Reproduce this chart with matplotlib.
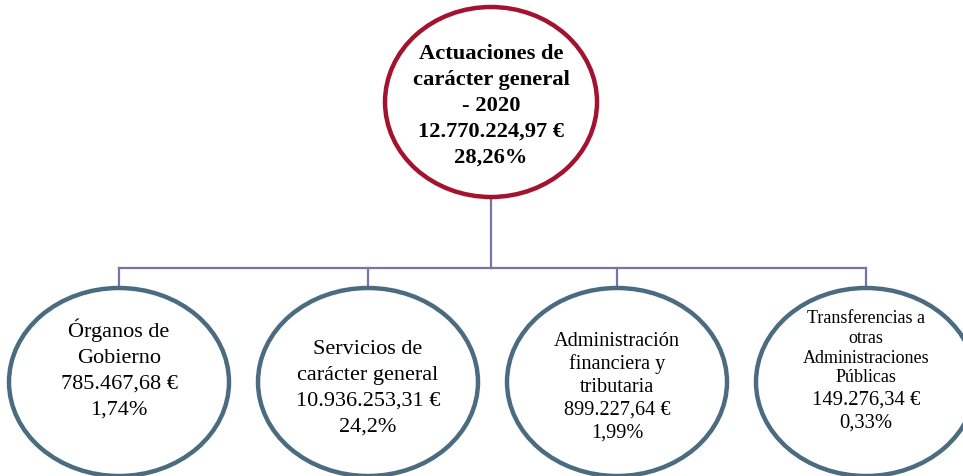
import matplotlib.pyplot as plt
from matplotlib.patches import Ellipse

# root node
root_lines = ["Actuaciones de", "carácter general", "- 2020"]
root_amount = "12.770.224,97 €"
root_pct = "28,26%"

# child nodes
child_names = [
    ["Órganos de", "Gobierno"],
    ["Servicios de", "carácter general"],
    ["Administración", "financiera y", "tributaria"],
    ["Transferencias a", "otras", "Administraciones", "Públicas"],
]
child_amounts = ["785.467,68 €", "10.936.253,31 €", "899.227,64 €", "149.276,34 €"]
child_pcts = ["1,74%", "24,2%", "1,99%", "0,33%"]

W, H = 963, 476
fig = plt.figure(figsize=(W / 100, H / 100), dpi=100)
ax = fig.add_axes([0, 0, 1, 1])
ax.set_xlim(0, W)
ax.set_ylim(H, 0)
ax.axis("off")

serif = ["Liberation Serif", "DejaVu Serif"]
red = "#A3132F"
slate = "#4B6B81"
link = "#7774AA"


def stack(x, y0, step, lines, size, **kw):
    # one text per line, baselines step pixels apart
    for k, s in enumerate(lines):
        ax.text(x, y0 + k * step, s, ha="center", va="baseline", fontsize=size,
                family=serif, zorder=3, **kw)


# layout (pixels)
root_xy = (491, 102)
root_w, root_h = 212, 190
child_x = [119, 368, 617, 866]
child_cy = 382
child_w, child_h = 220, 188
bus_y = 268

# connectors
ax.plot([root_xy[0], root_xy[0]], [root_xy[1] + root_h / 2, bus_y], color=link, lw=1.6, zorder=1)
ax.plot([child_x[0], child_x[-1]], [bus_y, bus_y], color=link, lw=1.6, zorder=1)
for cx in child_x:
    ax.plot([cx, cx], [bus_y, child_cy - child_h / 2], color=link, lw=1.6, zorder=1)

# root circle
ax.add_patch(Ellipse(root_xy, root_w, root_h, facecolor="white", edgecolor=red, lw=3.2, zorder=2))
stack(root_xy[0], 59, 26, root_lines + [root_amount, root_pct], 16.2, fontweight="bold")

# child circles
for cx in child_x:
    ax.add_patch(Ellipse((cx, child_cy), child_w, child_h, facecolor="white",
                         edgecolor=slate, lw=3.2, zorder=2))

first_base = [337, 354, 346]
steps = [26, 26, 23]
sizes = [16, 16, 14.6]
for i in range(3):
    stack(child_x[i], first_base[i], steps[i],
          child_names[i] + [child_amounts[i], child_pcts[i]], sizes[i])

# last child: smaller name, larger figures
stack(child_x[3], 323, 19.8, child_names[3], 13)
stack(child_x[3], 405, 22.5, [child_amounts[3], child_pcts[3]], 14.9)

fig.savefig("out.png", dpi=100)
